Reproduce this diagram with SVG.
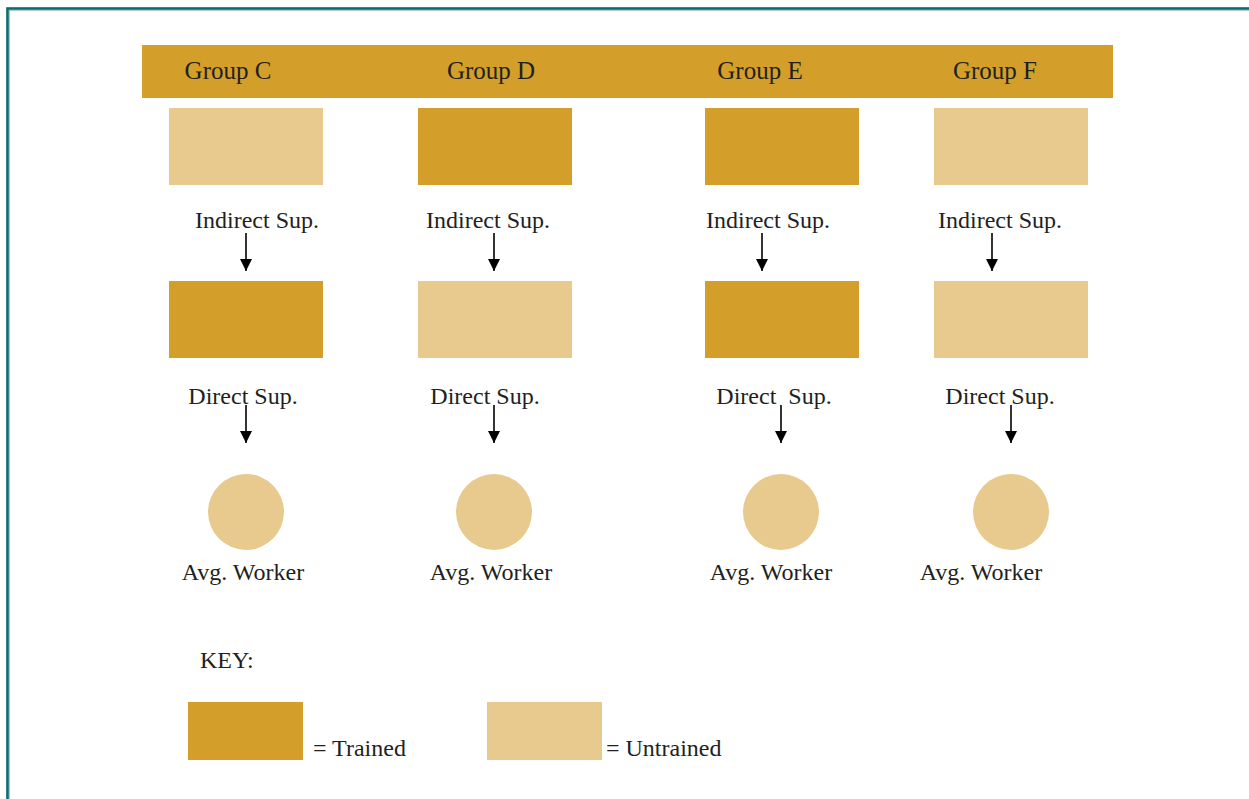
<svg xmlns="http://www.w3.org/2000/svg" width="1249" height="799" viewBox="0 0 1249 799">
<style>
.t{font-family:"Liberation Serif","Times New Roman",serif;fill:#231f20;font-size:24px;text-anchor:middle}
.h{font-size:25px}
.tr{fill:#d39f2a}
.un{fill:#e8c98e}
.ar{stroke:#000;stroke-width:1.6;fill:none;marker-end:url(#ah)}
</style>
<defs>
<marker id="ah" markerWidth="12" markerHeight="12" refX="12" refY="6" orient="auto" markerUnits="userSpaceOnUse" viewBox="0 0 12 12">
<path d="M0,0 L12,6 L0,12 Z" fill="#000"/>
</marker>
</defs>
<rect x="0" y="0" width="1249" height="799" fill="#fff"/>
<rect x="7.5" y="8.5" width="1280" height="850" fill="none" stroke="#0c6a6c" stroke-width="2.6"/>
<line x1="9.6" y1="10" x2="9.6" y2="799" stroke="#5aa3a5" stroke-width="0.6"/>
<line x1="9.6" y1="10.4" x2="1249" y2="10.4" stroke="#5aa3a5" stroke-width="0.6"/>
<g id="header">
<rect class="tr" x="142" y="45" width="971" height="53"/>
<text class="t h" x="228" y="79">Group C</text>
<text class="t h" x="491" y="79">Group D</text>
<text class="t h" x="760" y="79">Group E</text>
<text class="t h" x="995" y="79">Group F</text>
</g>
<g id="groupC">
<rect id="c-indirect" class="un" x="169" y="108" width="154" height="77"/>
<text class="t" x="257" y="228">Indirect Sup.</text>
<rect id="c-direct" class="tr" x="169" y="281" width="154" height="77"/>
<text class="t" x="243" y="404">Direct Sup.</text>
<circle id="c-worker" class="un" cx="246" cy="512" r="38"/>
<text class="t" x="243" y="580">Avg. Worker</text>
</g>
<g id="groupD">
<rect id="d-indirect" class="tr" x="418" y="108" width="154" height="77"/>
<text class="t" x="488" y="228">Indirect Sup.</text>
<rect id="d-direct" class="un" x="418" y="281" width="154" height="77"/>
<text class="t" x="485" y="404">Direct Sup.</text>
<circle id="d-worker" class="un" cx="494" cy="512" r="38"/>
<text class="t" x="491" y="580">Avg. Worker</text>
</g>
<g id="groupE">
<rect id="e-indirect" class="tr" x="705" y="108" width="154" height="77"/>
<text class="t" x="768" y="228">Indirect Sup.</text>
<rect id="e-direct" class="tr" x="705" y="281" width="154" height="77"/>
<text class="t" x="774" y="404" xml:space="preserve">Direct  Sup.</text>
<circle id="e-worker" class="un" cx="781" cy="512" r="38"/>
<text class="t" x="771" y="580">Avg. Worker</text>
</g>
<g id="groupF">
<rect id="f-indirect" class="un" x="934" y="108" width="154" height="77"/>
<text class="t" x="1000" y="228">Indirect Sup.</text>
<rect id="f-direct" class="un" x="934" y="281" width="154" height="77"/>
<text class="t" x="1000" y="404">Direct Sup.</text>
<circle id="f-worker" class="un" cx="1011" cy="512" r="38"/>
<text class="t" x="981" y="580">Avg. Worker</text>
</g>
<g id="connectors">
<line class="ar" x1="246" y1="233" x2="246" y2="271"/>
<line class="ar" x1="494" y1="233" x2="494" y2="271"/>
<line class="ar" x1="762" y1="233" x2="762" y2="271"/>
<line class="ar" x1="992" y1="233" x2="992" y2="271"/>
<line class="ar" x1="246" y1="405" x2="246" y2="443"/>
<line class="ar" x1="494" y1="405" x2="494" y2="443"/>
<line class="ar" x1="781" y1="405" x2="781" y2="443"/>
<line class="ar" x1="1011" y1="405" x2="1011" y2="443"/>
</g>
<g id="key">
<text class="t" x="200" y="668" style="text-anchor:start">KEY:</text>
<rect class="tr" x="188" y="702" width="115" height="58"/>
<text class="t" x="313" y="756" style="text-anchor:start">= Trained</text>
<rect class="un" x="487" y="702" width="115" height="58"/>
<text class="t" x="606" y="756" style="text-anchor:start">= Untrained</text>
</g>
</svg>
